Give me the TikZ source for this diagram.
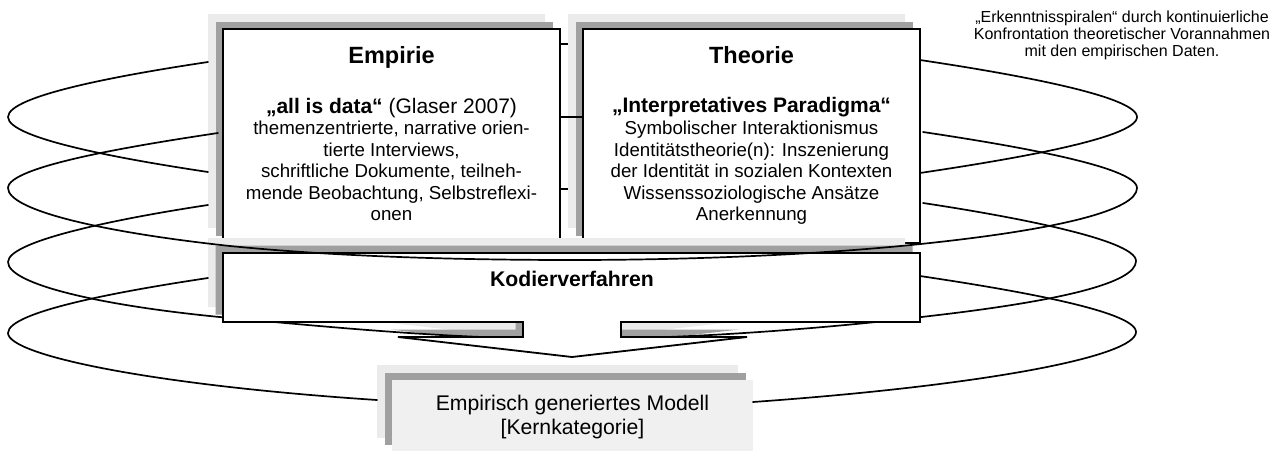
\documentclass[tikz,border=0pt]{standalone}
\usepackage{fontspec}
\setmainfont{Liberation Sans}
\definecolor{shadelight}{HTML}{EBEBEB}
\definecolor{shadedark}{HTML}{A0A0A0}
\definecolor{modelfill}{HTML}{F0F0F0}

% box with two stepped shadows towards the upper left:
% #1 name, #2..#5 corners (x0,y0,x1,y1), #6 style of the front box
\newcommand\steppedpanel[6]{%
  \fill[lightshadow] (#2-15,#3-15) rectangle (#4-15,#5-15);
  \fill[darkshadow] (#2-7.5,#3-7.5) rectangle (#4-7.5,#5-7.5);
  \node[#6, minimum width={(#4-#2)*1pt}, minimum height={(#5-#3)*1pt}]
    (#1) at ({(#2+#4)/2},{(#3+#5)/2}) {};
}

\begin{document}
\begin{tikzpicture}[x=1pt,y=-1pt,
  helix/.style={line width=1.7pt, line cap=round},
  frame/.style={rectangle, draw, line width=1.8pt, fill=white, inner sep=0pt},
  softframe/.style={rectangle, fill=modelfill, inner sep=0pt},
  lightshadow/.style={fill=shadelight},
  darkshadow/.style={fill=shadedark},
  title/.style={font=\fontsize{23.5}{28}\selectfont\bfseries, anchor=base, inner sep=0pt},
  lead/.style={font=\fontsize{21}{25}\selectfont, anchor=base, inner sep=0pt},
  body/.style={font=\fontsize{18.7}{21.4}\selectfont, anchor=base, inner sep=0pt},
  note/.style={font=\fontsize{16}{17}\selectfont, anchor=base, inner sep=0pt},
]
\fill[white] (0,0) rectangle (1283,450);
\useasboundingbox (0,0) rectangle (1283,450);

% end points of the spiral turns
\coordinate (la1) at (208,62);
\coordinate (lb1) at (208,172);
\coordinate (la2) at (218,133);
\coordinate (la3) at (208,205);
\coordinate (la4) at (208,278);
\coordinate (ra1) at (920,60);
\coordinate (rb1) at (920,173);
\coordinate (ra2) at (923,132);
\coordinate (ra3) at (923,203);
\coordinate (ra4) at (920,276);
\coordinate (mdl) at (377,400);
\coordinate (mdr) at (753,402);
\coordinate (gapa) at (560,44);   \coordinate (gapb) at (568,44);
\coordinate (gapc) at (560,117);  \coordinate (gapd) at (583,117);
\coordinate (gape) at (560,189);  \coordinate (gapf) at (568,189);

% upper panels
\steppedpanel{emp}{223}{29}{560}{243}{frame}
\steppedpanel{theo}{583}{29}{920}{243}{frame}

% down-arrow box for the coding step
\def\kodoutline{(223,253) -- (920,253) -- (920,322) -- (621,322) -- (621,337)
  -- (747,337) -- (572,357) -- (398,337) -- (523,337) -- (523,322)
  -- (223,322) -- cycle}
\fill[lightshadow, shift={(-15,-15)}] \kodoutline;
\fill[darkshadow, shift={(-7.5,-7.5)}] \kodoutline;

% lower spiral turn, passing behind the arrow box
\draw[helix] (la3) .. controls +(-80,12) and +(0,-22) .. (8,262)
  .. controls +(0,22) and (100,306) .. (230,318)
  .. controls (330,327) and (450,339) .. (572,339)
  .. controls (694,339) and (830,328) .. (930,316)
  .. controls (1060,301) and +(0,22) .. (1136,261)
  .. controls +(0,-22) and +(80,12) .. (ra3);

\draw[line width=1.8pt, fill=white] \kodoutline;

% result panel
\steppedpanel{mod}{392}{380}{753}{452.5}{softframe}

% remaining spiral turns
\draw[helix] (la1) .. controls +(-80,12) and +(0,-22) .. (8,117)
  .. controls +(0,22) and +(-80,-12) .. (lb1);
\draw[helix] (la2) .. controls +(-80,12) and +(0,-22) .. (8,188)
  .. controls +(0,22) and (100,232) .. (230,246)
  .. controls (330,256) and (450,260) .. (572,260)
  .. controls (700,260) and (830,254) .. (930,243)
  .. controls (1060,229) and +(0,22) .. (1137,188)
  .. controls +(0,-22) and +(80,12) .. (ra2);
\draw[helix] (la4) .. controls +(-80,12) and +(0,-22) .. (8,333)
  .. controls +(0,22) and (150,385) .. (mdl);
\draw[helix] (ra1) .. controls +(80,12) and +(0,-22) .. (1137,117)
  .. controls +(0,22) and +(80,-12) .. (rb1);
\draw[helix] (ra4) .. controls +(80,12) and +(0,-22) .. (1136,332)
  .. controls +(0,24) and (990,385) .. (mdr);
\draw[helix, line cap=butt] (gapa) -- (gapb);
\draw[helix, line cap=butt] (gapc) -- (gapd);
\draw[helix, line cap=butt] (gape) -- (gapf);

% texts of the panels
\node[title] (emptitle) at (391.5,63.5) {Empirie};
\node[lead] (emplead) at (391.5,113.3) {\textbf{„all is data“} (Glaser 2007)};
\foreach \txt [count=\i] in {{themenzentrierte, narrative orien-},{tierte Interviews,},
  {schriftliche Dokumente, teilneh-},{mende Beobachtung, Selbstreflexi-},{onen}}
  \node[body] (empline\i) at (391.5,{113.3+21.5*\i}) {\txt};

\node[title] (theotitle) at (751.5,63.5) {Theorie};
\node[lead] (theolead) at (751.5,112.5) {\textbf{„Interpretatives Paradigma“}};
\foreach \txt [count=\i] in {{Symbolischer Interaktionismus},{Identitätstheorie(n): Inszenierung},
  {der Identität in sozialen Kontexten},{Wissenssoziologische Ansätze},{Anerkennung}}
  \node[body] (theoline\i) at (751.5,{113.3+21.5*\i}) {\txt};

\node[font=\fontsize{21.2}{25}\selectfont\bfseries, anchor=base, inner sep=0pt]
  (kodtitle) at (572,286.5) {Kodierverfahren};

\node[font=\fontsize{21.2}{25}\selectfont, anchor=base, inner sep=0pt]
  (modline1) at (572.5,410) {Empirisch generiertes Modell};
\node[font=\fontsize{21.2}{25}\selectfont, anchor=base, inner sep=0pt]
  (modline2) at (572.5,434.5) {[Kernkategorie]};

\node[note] (noteline1) at (1122,22.5) {„Erkenntnisspiralen“ durch kontinuierliche};
\node[note] (noteline2) at (1122,39.3) {Konfrontation theoretischer Vorannahmen};
\node[note] (noteline3) at (1122,56) {mit den empirischen Daten.};
\end{tikzpicture}
\end{document}
